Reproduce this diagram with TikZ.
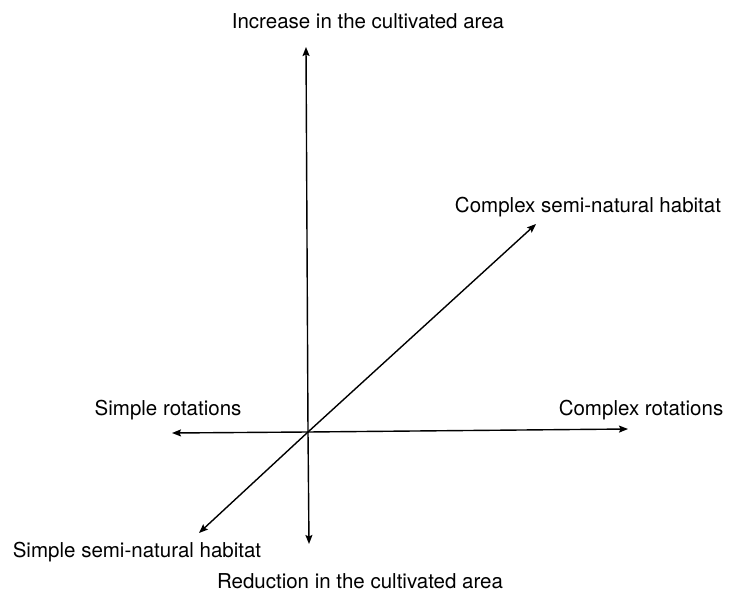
\documentclass[tikz,border=0pt]{standalone}
\usepackage{fontspec}
\setmainfont{TeX Gyre Heros}
\usetikzlibrary{arrows.meta}
\begin{document}
\begin{tikzpicture}[x=1pt,y=-1pt,
  axis/.style={line width=1.4pt,-{Stealth[length=9pt,width=7pt,inset=1.5pt]}},
  lbl/.style={anchor=base,inner sep=0pt,font=\fontsize{20.5}{24}\selectfont}]
\useasboundingbox (0,0) rectangle (731,591);
\coordinate (O) at (308,432);
\coordinate (up) at (306,47);
\coordinate (down) at (309,544);
\coordinate (left) at (172,433);
\coordinate (right) at (628,429);
\coordinate (ne) at (536,224);
\coordinate (sw) at (199,533);
\draw[axis] (O) -- (up);
\draw[axis] (O) -- (down);
\draw[axis] (O) -- (left);
\draw[axis] (O) -- (right);
\draw[axis] (O) -- (ne);
\draw[axis] (O) -- (sw);
\node[lbl] (tInc) at (368,29) {Increase in the cultivated area};
\node[lbl] (tCsn) at (588,212) {Complex semi-natural habitat};
\node[lbl] (tSr) at (168,415) {Simple rotations};
\node[lbl] (tCr) at (641,415) {Complex rotations};
\node[lbl] (tSsn) at (137,557) {Simple semi-natural habitat};
\node[lbl] (tRed) at (360,588) {Reduction in the cultivated area};
\end{tikzpicture}
\end{document}
